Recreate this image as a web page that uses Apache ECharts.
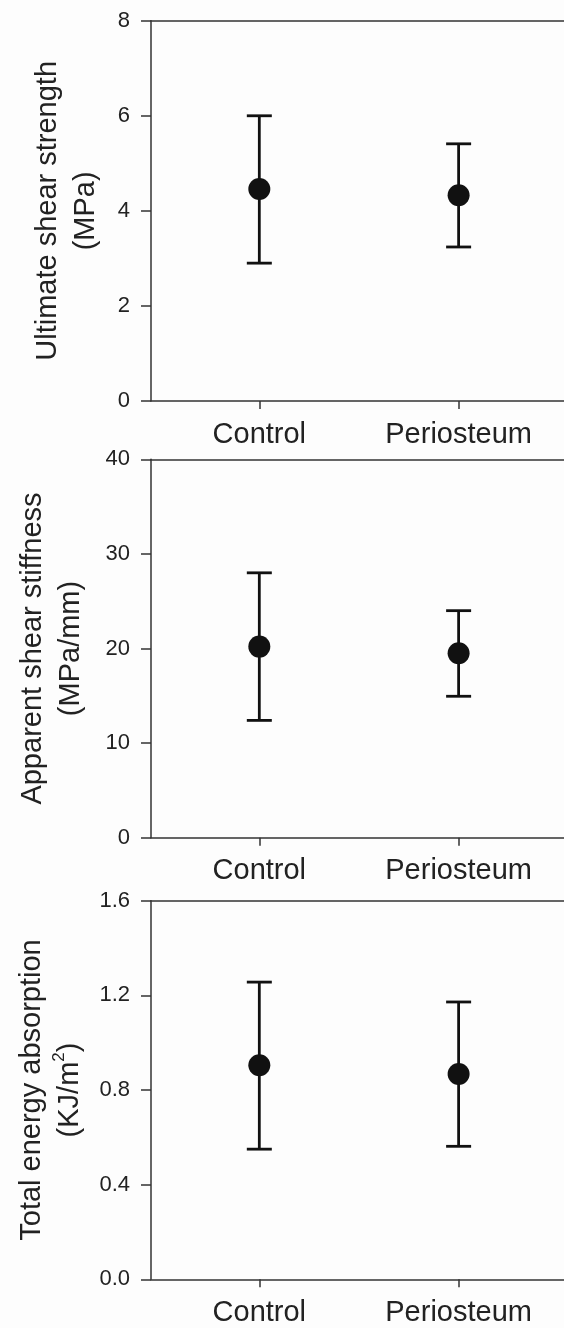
<!DOCTYPE html>
<html>
<head>
<meta charset="utf-8">
<script src="https://cdn.jsdelivr.net/npm/echarts@6/dist/echarts.min.js"></script>
<style>
  html, body { margin: 0; padding: 0; background: #fdfdfd; }
  #chart { width: 564px; height: 1328px; }
</style>
</head>
<body>
<div id="chart"></div>
<script>
// ---- Data ----
const categories = ['Control', 'Periosteum'];

const strengthMean  = [4.46, 4.33];
const strengthLow   = [2.90, 3.24];
const strengthHigh  = [6.00, 5.41];

const stiffnessMean = [20.2, 19.5];
const stiffnessLow  = [12.4, 14.95];
const stiffnessHigh = [28.0, 24.0];

const energyMean    = [0.905, 0.868];
const energyLow     = [0.550, 0.562];
const energyHigh    = [1.256, 1.172];

const strengthTicks  = [0, 2, 4, 6, 8];
const stiffnessTicks = [0, 10, 20, 30, 40];
const energyTicks    = [0, 0.4, 0.8, 1.2, 1.6];

// ---- Styling ----
const FONT = '"Liberation Sans", Arial, Helvetica, sans-serif';
const TEXT = '#222';
const AXIS = '#333';
const MARK = '#111';

const panels = [
  { top: 20.7, height: 380.3, mean: strengthMean, low: strengthLow, high: strengthHigh,
    ticks: strengthTicks, interval: 2, fmt: v => String(v),
    name: '{a|Ultimate shear strength}\n{a|(MPa)}', nameGap: 46 },
  { top: 459.3, height: 378.4, mean: stiffnessMean, low: stiffnessLow, high: stiffnessHigh,
    ticks: stiffnessTicks, interval: 10, fmt: v => String(v),
    name: '{a|Apparent shear stiffness}\n{a|(MPa/mm)}', nameGap: 61 },
  { top: 900.7, height: 378.6, mean: energyMean, low: energyLow, high: energyHigh,
    ticks: energyTicks, interval: 0.4, fmt: v => v.toFixed(1),
    name: '{a|Total energy absorption}\n{a|(KJ/m}{s|2}{a|)}', nameGap: 62 }
];

const xPos = categories.map((c, i) => i + 1);
const X_MIN = 0.4565, X_MAX = 2.5288;

const grid = [], xAxis = [], yAxis = [], series = [];

panels.forEach((p, k) => {
  grid.push({ left: 151, top: p.top, right: 0, height: p.height, show: false });
  xAxis.push({
    type: 'value', gridIndex: k, min: X_MIN, max: X_MAX, position: 'bottom',
    axisLine: { show: true, onZero: false, lineStyle: { color: AXIS, width: 1.5 } },
    axisTick: { show: true, inside: false, length: 8, customValues: xPos,
      lineStyle: { color: AXIS, width: 1.5 } },
    axisLabel: { show: true, customValues: xPos, margin: 19,
      formatter: v => categories[Math.round(v) - 1] || '',
      fontFamily: FONT, fontSize: 29, color: TEXT },
    splitLine: { show: false }
  });
  // top frame line
  xAxis.push({
    type: 'value', gridIndex: k, min: X_MIN, max: X_MAX, position: 'top',
    axisLine: { show: true, onZero: false, lineStyle: { color: AXIS, width: 1.5 } },
    axisTick: { show: false }, axisLabel: { show: false }, splitLine: { show: false }
  });
  yAxis.push({
    type: 'value', gridIndex: k,
    min: p.ticks[0], max: p.ticks[p.ticks.length - 1], interval: p.interval,
    axisLine: { show: true, onZero: false, lineStyle: { color: AXIS, width: 1.5 } },
    axisTick: { show: true, inside: false, length: 10, lineStyle: { color: AXIS, width: 1.5 } },
    axisLabel: { margin: 21, formatter: p.fmt, fontFamily: FONT, fontSize: 22, color: TEXT },
    splitLine: { show: false },
    name: p.name, nameLocation: 'middle', nameRotate: 90, nameGap: p.nameGap,
    nameTextStyle: {
      fontFamily: FONT, color: TEXT, lineHeight: 38,
      rich: {
        a: { fontFamily: FONT, fontSize: 29, color: TEXT, lineHeight: 38 },
        s: { fontFamily: FONT, fontSize: 17, color: TEXT, lineHeight: 18, verticalAlign: 'top' }
      }
    }
  });
  // error bars
  series.push({
    type: 'custom', xAxisIndex: 2 * k, yAxisIndex: k, silent: true, z: 2,
    data: categories.map((c, i) => [xPos[i], p.low[i], p.high[i]]),
    renderItem: (params, api) => {
      const x = api.value(0);
      const lo = api.coord([x, api.value(1)]);
      const hi = api.coord([x, api.value(2)]);
      const half = 12.5;
      const st = { stroke: MARK, lineWidth: 2.8 };
      return {
        type: 'group',
        children: [
          { type: 'line', shape: { x1: lo[0], y1: lo[1], x2: hi[0], y2: hi[1] }, style: st },
          { type: 'line', shape: { x1: hi[0] - half, y1: hi[1], x2: hi[0] + half, y2: hi[1] }, style: st },
          { type: 'line', shape: { x1: lo[0] - half, y1: lo[1], x2: lo[0] + half, y2: lo[1] }, style: st }
        ]
      };
    }
  });
  // means
  series.push({
    type: 'scatter', xAxisIndex: 2 * k, yAxisIndex: k, silent: true, z: 3,
    symbol: 'circle', symbolSize: 22,
    itemStyle: { color: MARK, opacity: 1 },
    data: categories.map((c, i) => [xPos[i], p.mean[i]])
  });
});

const chart = echarts.init(document.getElementById('chart'), null, { renderer: 'canvas' });
chart.setOption({
  backgroundColor: '#fdfdfd',
  animation: false,
  grid, xAxis, yAxis, series
});
</script>
</body>
</html>
